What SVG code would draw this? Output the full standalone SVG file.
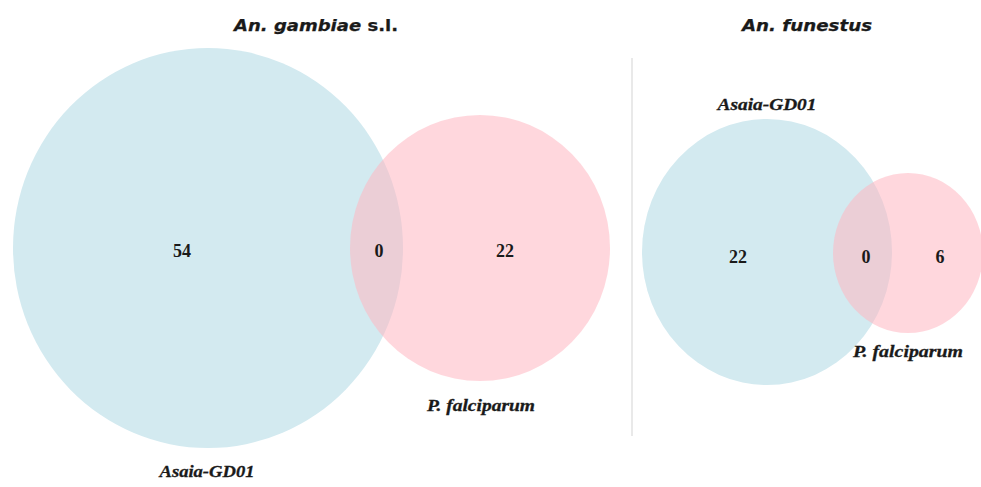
<svg xmlns="http://www.w3.org/2000/svg" width="981" height="487" viewBox="0 0 981 487">
<style>
.title{font-family:"DejaVu Sans",Verdana,sans-serif;font-weight:bold;font-style:italic;font-size:15px;fill:#1a1a1a;stroke:#1a1a1a;stroke-width:0.25;text-anchor:middle}
.lab{font-family:"Liberation Serif","Times New Roman",serif;font-weight:bold;font-style:italic;font-size:17px;fill:#1a1a1a;stroke:#1a1a1a;stroke-width:0.3;text-anchor:middle}
.num{font-family:"Liberation Serif","Times New Roman",serif;font-weight:bold;font-size:18px;fill:#1a1a1a;text-anchor:middle}
.blue{fill:#d3eaf0}
.pink{fill:#ffb6c1;fill-opacity:0.55}
</style>
<rect width="981" height="487" fill="#ffffff"/>
<g id="connectors">
<line x1="632" y1="58" x2="632" y2="436" stroke="#e2e2e2" stroke-width="1.5"/>
</g>
<g id="titles">
<text class="title" x="316" y="31" textLength="164" lengthAdjust="spacingAndGlyphs">An. gambiae <tspan font-style="normal">s.l.</tspan></text>
<text class="title" x="807" y="31" textLength="130" lengthAdjust="spacingAndGlyphs">An. funestus</text>
</g>
<g id="gambiae-asaia">
<ellipse class="blue" cx="208" cy="248" rx="195" ry="200"/>
<text class="num" x="182" y="257">54</text>
<text class="lab" x="207" y="477" textLength="95" lengthAdjust="spacingAndGlyphs">Asaia-GD01</text>
</g>
<g id="gambiae-pf">
<ellipse class="pink" cx="480" cy="248" rx="130" ry="133"/>
<text class="num" x="505" y="257">22</text>
<text class="lab" x="481" y="411" textLength="108" lengthAdjust="spacingAndGlyphs">P. falciparum</text>
</g>
<g id="gambiae-overlap">
<text class="num" x="379" y="257">0</text>
</g>
<g id="funestus-asaia">
<ellipse class="blue" cx="767" cy="252" rx="125" ry="133"/>
<text class="num" x="738" y="263">22</text>
<text class="lab" x="767" y="110" textLength="99" lengthAdjust="spacingAndGlyphs">Asaia-GD01</text>
</g>
<g id="funestus-pf">
<ellipse class="pink" cx="908" cy="253" rx="75" ry="80"/>
<text class="num" x="940" y="263">6</text>
<text class="lab" x="908" y="357" textLength="110" lengthAdjust="spacingAndGlyphs">P. falciparum</text>
</g>
<g id="funestus-overlap">
<text class="num" x="866" y="263">0</text>
</g>
</svg>
